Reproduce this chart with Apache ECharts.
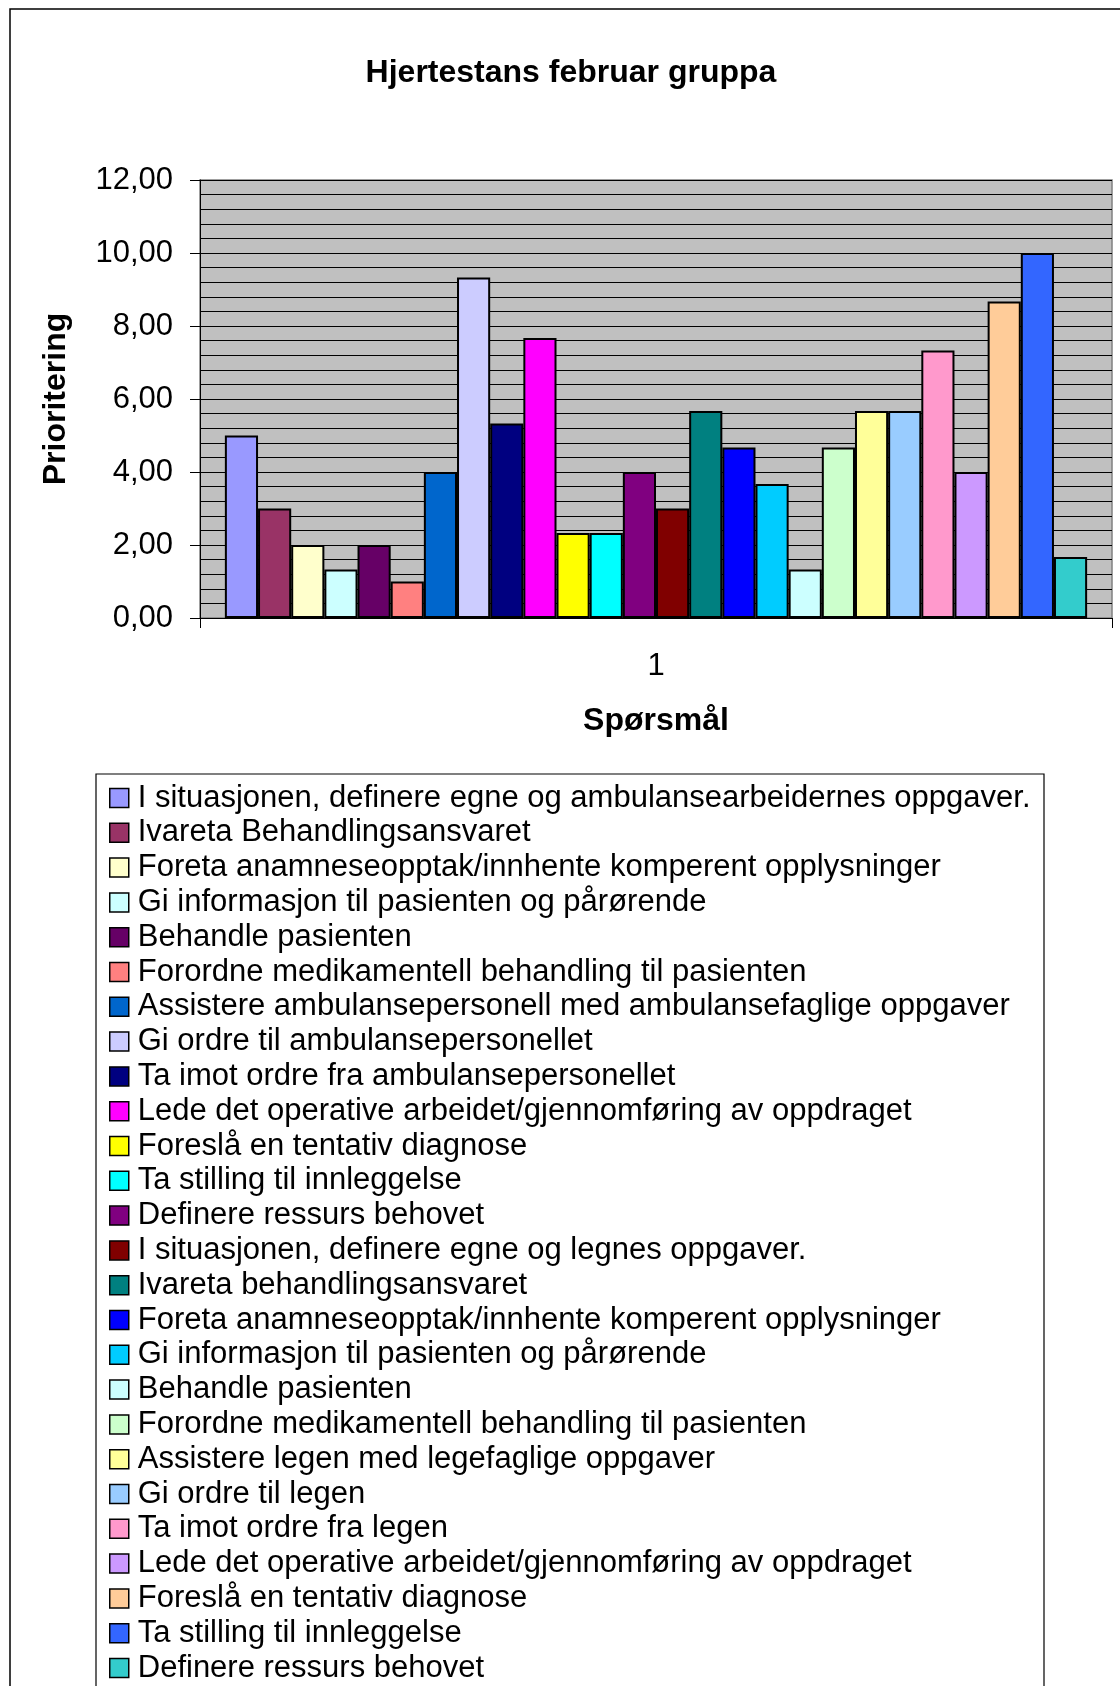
<!DOCTYPE html>
<html>
<head>
<meta charset="utf-8">
<script src="https://cdn.jsdelivr.net/npm/echarts@6/dist/echarts.min.js"></script>
<style>
  html, body { margin: 0; padding: 0; background: #fff; }
  #chart { width: 1120px; height: 1686px; }
</style>
</head>
<body>
<div id="chart"></div>
<script>
// Task labels, one bar per task (legend order = bar order)
const taskLabels = [
  'I situasjonen, definere egne og ambulansearbeidernes oppgaver.',
  'Ivareta Behandlingsansvaret',
  'Foreta anamneseopptak/innhente komperent opplysninger',
  'Gi informasjon til pasienten og pårørende',
  'Behandle pasienten',
  'Forordne medikamentell behandling til pasienten',
  'Assistere ambulansepersonell med ambulansefaglige oppgaver',
  'Gi ordre til ambulansepersonellet',
  'Ta imot ordre fra ambulansepersonellet',
  'Lede det operative arbeidet/gjennomføring av oppdraget',
  'Foreslå en tentativ diagnose',
  'Ta stilling til innleggelse',
  'Definere ressurs behovet',
  'I situasjonen, definere egne og legnes oppgaver.',
  'Ivareta behandlingsansvaret',
  'Foreta anamneseopptak/innhente komperent opplysninger',
  'Gi informasjon til pasienten og pårørende',
  'Behandle pasienten',
  'Forordne medikamentell behandling til pasienten',
  'Assistere legen med legefaglige oppgaver',
  'Gi ordre til legen',
  'Ta imot ordre fra legen',
  'Lede det operative arbeidet/gjennomføring av oppdraget',
  'Foreslå en tentativ diagnose',
  'Ta stilling til innleggelse',
  'Definere ressurs behovet'
];

// Average priority per task
const scores = [
  5.00, 3.00, 2.00, 1.33, 2.00, 1.00, 4.00, 9.33, 5.33, 7.67, 2.33, 2.33, 4.00,
  3.00, 5.67, 4.67, 3.67, 1.33, 4.67, 5.67, 5.67, 7.33, 4.00, 8.67, 10.00, 1.67
];

const barColors = [
  '#9999FF', '#993366', '#FFFFCC', '#CCFFFF', '#660066', '#FF8080', '#0066CC',
  '#CCCCFF', '#000080', '#FF00FF', '#FFFF00', '#00FFFF', '#800080', '#800000',
  '#008080', '#0000FF', '#00CCFF', '#CCFFFF', '#CCFFCC', '#FFFF99', '#99CCFF',
  '#FF99CC', '#CC99FF', '#FFCC99', '#3366FF', '#33CCCC'
];

const categories = ['1'];
const yTicks = { min: 0, max: 12, step: 2 };

const FONT = "'Liberation Sans', Arial, sans-serif";

// Series names carry an index prefix so repeated task labels stay separate in the legend
const seriesNames = taskLabels.map((t, i) => (i + 1) + '. ' + t);

const series = scores.map((v, i) => ({
  name: seriesNames[i],
  type: 'bar',
  data: [v],
  barGap: '0%',
  barCategoryGap: (1.5 / 27.5 * 100) + '%',
  itemStyle: { color: barColors[i], borderColor: '#000', borderWidth: 2 }
}));

const chart = echarts.init(document.getElementById('chart'), null, { renderer: 'canvas' });

chart.setOption({
  animation: false,
  backgroundColor: '#fff',
  textStyle: { fontFamily: FONT, color: '#000' },
  title: {
    text: 'Hjertestans februar gruppa',
    left: 566,
    top: 52,
    textAlign: 'center',
    textStyle: { fontFamily: FONT, fontSize: 32, fontWeight: 'bold', color: '#000' }
  },
  graphic: [
    {
      type: 'rect', z: -1, silent: true,
      shape: { x: 10, y: 9, width: 1300, height: 2000 },
      style: { fill: null, stroke: '#000', lineWidth: 1.5 }
    },
    {
      type: 'rect', z: -1, silent: true,
      shape: { x: 96, y: 774, width: 948, height: 1000 },
      style: { fill: null, stroke: '#000', lineWidth: 1.2 }
    }
  ],
  grid: {
    left: 200, top: 180, width: 912, height: 438,
    show: true, backgroundColor: '#C0C0C0', borderColor: '#808080', borderWidth: 1.5
  },
  xAxis: {
    type: 'category',
    data: categories,
    name: 'Spørsmål',
    nameLocation: 'middle',
    nameGap: 87,
    nameTextStyle: { fontFamily: FONT, fontSize: 32, fontWeight: 'bold', color: '#000' },
    axisLine: { lineStyle: { color: '#000', width: 1 } },
    axisTick: { show: true, length: 10, lineStyle: { color: '#000' } },
    axisLabel: { fontFamily: FONT, fontSize: 31, color: '#000', margin: 33 }
  },
  yAxis: {
    type: 'value',
    min: yTicks.min,
    max: yTicks.max,
    interval: yTicks.step,
    name: 'Prioritering',
    nameLocation: 'middle',
    nameRotate: 90,
    nameGap: 128,
    nameTextStyle: { fontFamily: FONT, fontSize: 32, fontWeight: 'bold', color: '#000' },
    axisLine: { show: true, lineStyle: { color: '#000', width: 1 } },
    axisTick: { show: true, length: 10, lineStyle: { color: '#000' } },
    axisLabel: {
      fontFamily: FONT, fontSize: 31, color: '#000', margin: 27,
      formatter: v => v.toFixed(2).replace('.', ',')
    },
    splitLine: { show: true, lineStyle: { color: '#000', width: 1 } },
    minorTick: { show: false, splitNumber: 5 },
    minorSplitLine: { show: true, lineStyle: { color: '#000', width: 1 } }
  },
  legend: {
    orient: 'vertical',
    left: 96,
    top: 774,
    height: 1200,
    padding: [6.6, 13, 6, 13],
    itemGap: 0,
    itemWidth: 19,
    itemHeight: 19,
    icon: 'rect',
    data: seriesNames,
    formatter: name => name.replace(/^\d+\. /, ''),
    itemStyle: { borderColor: '#000', borderWidth: 1.5 },
    textStyle: { fontFamily: FONT, fontSize: 31, color: '#000', lineHeight: 34.8, padding: [0, 0, 0, 4] }
  },
  series: series
});
</script>
</body>
</html>
